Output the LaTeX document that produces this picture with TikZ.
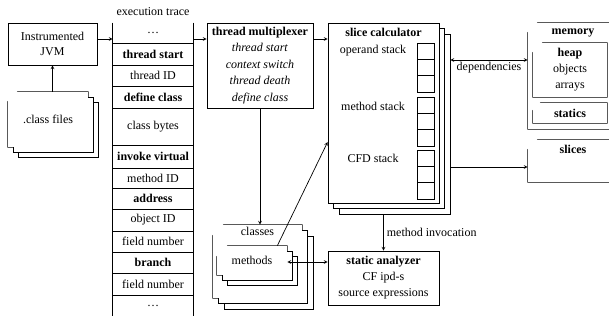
\documentclass[tikz,border=0pt,12pt]{standalone}
\usepackage{fontspec}
\setmainfont{Liberation Serif}
\usetikzlibrary{shadows}

\begin{document}
\begin{tikzpicture}[x=1pt, y=-1pt, line width=0.7pt,
    box/.style={draw, rectangle, fill=white, inner sep=1pt, align=center},
    folder/.style={rectangle, fill=white, inner sep=1pt, append after command={
        \pgfextra{\draw (\tikzlastnode.south west) -- ([yshift=-#1]\tikzlastnode.north west)
            -- ([xshift=#1]\tikzlastnode.north west) -- (\tikzlastnode.north east)
            -- (\tikzlastnode.south east) -- cycle;}}},
    folder/.default=10pt,
    pile/.style={general shadow={shadow xshift={2*#1}, shadow yshift={-2*#1}, draw, fill=white},
        general shadow={shadow xshift=#1, shadow yshift=-#1, draw, fill=white}},
    pile/.default=5pt,
    cell/.style={draw, minimum width=17pt, minimum height=16.3pt, inner sep=0pt},
    headline/.style={label={[anchor=north, inner sep=5.5pt, font=\bfseries]north:#1}}]
	\useasboundingbox (0,0) rectangle (609,320);
	
	% source side
	\node[box, minimum width=89pt, minimum height=42pt] (jvm) at (52.5,44) {Instrumented\\JVM};
	\node[folder, pile, minimum width=80pt, minimum height=55pt] (cls) at (48,119.5) {.class files};
	
	% the trace
	\node (tracelbl) at (153,12) {execution trace};
	\foreach \ya/\yb/\txt [count=\i] in {23/43/\ldots, 43/65/\textbf{thread start},
	    65/86/thread ID, 86/108/\textbf{define class}, 108/145/class bytes,
	    145/168/\textbf{invoke virtual}, 168/188/method ID, 188/209/\textbf{address},
	    209/231/object ID, 231/252/field number, 252/273/\textbf{branch},
	    273/295/field number, 295/316/\ldots}
		\node[minimum width=80pt, minimum height={(\yb-\ya)*1pt}, inner sep=0pt] (t\i) at (153,{(\ya+\yb)/2}) {\txt};
	\foreach \i in {1,...,12}
		\draw (t\i.south west) -- (t\i.south east);
	\draw
		(t1.north west) -- (t13.south west)
		(t1.north east) -- (t13.south east);
	
	\node[box, minimum width=106pt, minimum height=85pt] (mux) at (260,65.5)
		{\textbf{thread multiplexer}\\[2pt] \textit{thread start}\\[2pt] \textit{context switch}\\[2pt]
		 \textit{thread death}\\[2pt] \textit{define class}};
	
	% slice calculator with its stacks
	\node[box, pile=5.5pt, minimum width=111pt, minimum height=180pt, headline={slice calculator}] (calc) at (383.5,113) {};
	\node (opname) at (373,51) {operand stack};
	\node (mename) at (373,106) {method stack};
	\node (cfdname) at (373,158) {CFD stack};
	\foreach \s/\y in {op/43, me/97, cfd/150}
		\foreach \k in {0,1,2}
			\node[cell] (\s\k) at (425.5,{\y+8.15+16.3*\k}) {};
	
	% memory and slices
	\node[folder, minimum width=90pt, minimum height=106pt, headline=memory] (memory) at (573,76) {};
	\node[folder, minimum width=74pt, minimum height=54pt, align=center] (heap) at (570,70)
		{\textbf{heap}\\[1.5pt]objects\\[1.5pt]arrays};
	\node[folder=8pt, minimum width=74pt, minimum height=20pt, font=\bfseries] (statics) at (570,113) {statics};
	\node[folder, minimum width=90pt, minimum height=42pt, headline=slices] (slices) at (573,161) {};
	
	% classes and the analyzer
	\node[folder=11pt, pile=5.5pt, minimum width=89pt, minimum height=73pt,
		label={[anchor=north, inner sep=2pt]north:classes}] (classes) at (257.5,261.5) {};
	\node[folder=11pt, pile, minimum width=70pt, minimum height=29pt] (methods) at (252,260.5) {methods};
	\node[box, minimum width=111pt, minimum height=54pt] (sa) at (383.5,278)
		{\textbf{static analyzer}\\[1.5pt]CF ipd-s\\[1.5pt]source expressions};
	
	\coordinate (feed) at (0,39);
	\begin{scope}[-stealth]
		\draw (jvm.south |- cls.north) -- (jvm.south);
		\draw (jvm.east |- feed) -- (t1.west |- feed);
		\draw (t1.east |- feed) -- (mux.west |- feed);
		\draw (mux.east |- feed) -- (calc.west |- feed);
		\draw (mux.south) -- (mux.south |- classes.north);
		\draw ([xshift=-10pt]methods.north east) -- (calc.west |- 0,142);
		\draw ([yshift=-11pt]calc.south) -- (sa.north) node [midway, right, inner sep=3pt] {method invocation};
		\draw ([xshift=11pt]calc.east |- 0,167) -- (slices.west |- 0,167);
	\end{scope}
	\begin{scope}[stealth-stealth]
		\draw ([xshift=11pt]calc.east |- 0,60) -- (memory.west |- 0,60) node [midway, below, inner sep=2pt] {dependencies};
		\draw (methods.east |- 0,262) -- (sa.west |- 0,262);
	\end{scope}
\end{tikzpicture}
\end{document}
